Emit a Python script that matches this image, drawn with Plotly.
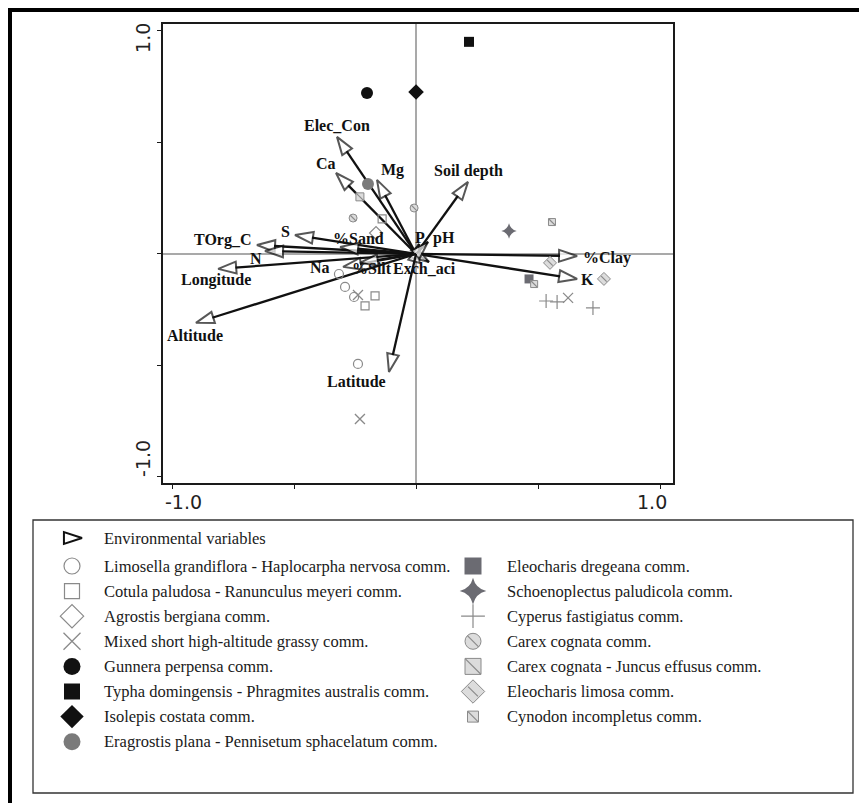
import plotly.graph_objects as go

W, H = 859, 803

# ---------------- data ----------------
env_names = ["Elec_Con", "Ca", "Mg", "Soil depth", "%Clay", "K", "S", "TOrg_C", "N",
             "%Sand", "Longitude", "Na", "%Silt", "Exch_aci", "P", "pH", "Altitude", "Latitude"]
env_x = [-0.324, -0.328, -0.160, 0.213, 0.660, 0.660, -0.496, -0.652, -0.619,
         -0.311, -0.811, -0.299, -0.230, 0.053, 0.012, 0.049, -0.902, -0.111]
env_y = [0.525, 0.363, 0.332, 0.323, -0.009, -0.112, 0.085, 0.040, 0.013,
         0.031, -0.067, -0.058, -0.040, -0.036, 0.045, 0.054, -0.309, -0.529]

limosella_x = [-0.316, -0.291, -0.254, -0.238]
limosella_y = [-0.090, -0.148, -0.193, -0.493]
cotula_x = [-0.139, -0.168, -0.209]
cotula_y = [0.157, -0.188, -0.233]
agrostis_x = [-0.164]
agrostis_y = [0.094]
mixed_x = [-0.238, -0.230, 0.623]
mixed_y = [-0.184, -0.740, -0.197]
gunnera_x = [-0.201]
gunnera_y = [0.722]
typha_x = [0.217]
typha_y = [0.951]
isolepis_x = [0.0]
isolepis_y = [0.726]
eragrostis_x = [-0.197]
eragrostis_y = [0.314]
dregeana_x = [0.463]
dregeana_y = [-0.112]
schoeno_x = [0.381]
schoeno_y = [0.103]
cyperus_x = [0.533, 0.578, 0.725]
cyperus_y = [-0.211, -0.215, -0.242]
carex_x = [-0.258, -0.008]
carex_y = [0.161, 0.206]
carexjun_x = [-0.230]
carexjun_y = [0.256]
limosa_x = [0.549, 0.770]
limosa_y = [-0.040, -0.112]
cynodon_x = [0.557, 0.484]
cynodon_y = [0.143, -0.135]

env_legend_label = "Environmental variables"
legend_labels = [
    "Limosella grandiflora - Haplocarpha nervosa comm.",
    "Cotula paludosa - Ranunculus meyeri comm.",
    "Agrostis bergiana comm.",
    "Mixed short high-altitude grassy comm.",
    "Gunnera perpensa comm.",
    "Typha domingensis - Phragmites australis comm.",
    "Isolepis costata comm.",
    "Eragrostis plana - Pennisetum sphacelatum comm.",
    "Eleocharis dregeana comm.",
    "Schoenoplectus paludicola comm.",
    "Cyperus fastigiatus comm.",
    "Carex cognata comm.",
    "Carex cognata - Juncus effusus comm.",
    "Eleocharis limosa comm.",
    "Cynodon incompletus comm.",
]
series_x = [limosella_x, cotula_x, agrostis_x, mixed_x, gunnera_x, typha_x, isolepis_x,
            eragrostis_x, dregeana_x, schoeno_x, cyperus_x, carex_x, carexjun_x, limosa_x, cynodon_x]
series_y = [limosella_y, cotula_y, agrostis_y, mixed_y, gunnera_y, typha_y, isolepis_y,
            eragrostis_y, dregeana_y, schoeno_y, cyperus_y, carex_y, carexjun_y, limosa_y, cynodon_y]

# ---------------- styles ----------------
GRAY = "#8a8a8a"
DGRAY = "#6b6b72"
BLK = "#111111"
# symbol, fill colour, outline colour, outline width, plot size, legend size, hatch
styles = [
    ("circle-open", GRAY, GRAY, 1.2, 9, 16, False),
    ("square-open", GRAY, GRAY, 1.2, 8, 15, False),
    ("diamond-open", GRAY, GRAY, 1.2, 10, 18, False),
    ("x-thin-open", GRAY, GRAY, 1.3, 10, 17, False),
    ("circle", BLK, BLK, 0, 12, 17, False),
    ("square", BLK, BLK, 0, 10, 16, False),
    ("diamond", BLK, BLK, 0, 12, 18, False),
    ("circle", "#7a7a7a", "#7a7a7a", 0, 12, 17, False),
    ("square", DGRAY, DGRAY, 0, 9, 17, False),
    ("star-diamond", DGRAY, DGRAY, 0, 11, 19, False),
    ("cross-thin-open", GRAY, GRAY, 1.2, 10, 17, False),
    ("circle", "#dcdcdc", GRAY, 1.0, 8, 16, True),
    ("square", "#dcdcdc", GRAY, 1.0, 8, 16, True),
    ("diamond", "#dcdcdc", GRAY, 1.0, 10, 18, True),
    ("square", "#dcdcdc", GRAY, 1.0, 7, 11, True),
]

# label offsets (pixels) relative to arrow tips
lab_dx = [0, -10, 15, 0, 30, 10, -10, -34, -9, 18, -2, -23, 12, -4, 1, 16, -1, -32]
lab_dy = [11, 9, 10, 11, -2, -1, 3, 5, -7, 9, -11, -1, -6, -7, 6, 4, -13, -10]

# layout geometry (pixels)
plot_l, plot_r, plot_t, plot_b = 163, 673, 24, 483
xr = [-1.037, 1.053]
yr = [-1.027, 1.031]

fig = go.Figure()

# arrows
for i, name in enumerate(env_names):
    fig.add_trace(go.Scatter(
        x=[0, env_x[i]], y=[0, env_y[i]], mode="lines+markers",
        line=dict(color=BLK, width=2.3),
        marker=dict(symbol="arrow", size=[0, 19], angleref="previous", color="white",
                    line=dict(color=BLK, width=2)),
        showlegend=False, hoverinfo="skip", cliponaxis=False))


def add_series(xs, ys, st, xa, ya, legend=False):
    sym, fill, outl, lw, ps, ls, hatch = st
    size = ls if legend else ps
    fig.add_trace(go.Scatter(
        x=xs, y=ys, mode="markers", xaxis=xa, yaxis=ya,
        marker=dict(symbol=sym, size=size, color=fill, line=dict(color=outl, width=lw if lw else 0)),
        showlegend=False, hoverinfo="skip", cliponaxis=False))
    if hatch:
        fac = 0.7 if sym == "circle" else (0.55 if sym == "diamond" else 0.95)
        fig.add_trace(go.Scatter(
            x=xs, y=ys, mode="markers", xaxis=xa, yaxis=ya,
            marker=dict(symbol="line-nw", size=size * fac, color=outl,
                        line=dict(color=outl, width=1.2)),
            showlegend=False, hoverinfo="skip", cliponaxis=False))


for k in range(len(series_x)):
    add_series(series_x[k], series_y[k], styles[k], "x", "y")

# legend (pixel axes)
left_sym_x, left_txt_x = 72, 102
right_sym_x, right_txt_x = 473, 505
env_row_y = 538
row0, row_step = 566, 25.1
leg_font = dict(family="Liberation Serif, Times New Roman, serif", size=16.5, color="#1a1a1a")

fig.add_trace(go.Scatter(
    x=[left_sym_x + 10], y=[env_row_y], mode="markers", xaxis="x2", yaxis="y2",
    marker=dict(symbol="arrow", size=19, angle=90, color="white", line=dict(color=BLK, width=2)),
    showlegend=False, hoverinfo="skip"))
annotations = [dict(x=left_txt_x, y=env_row_y, xref="x2", yref="y2", text=env_legend_label,
                    showarrow=False, xanchor="left", yanchor="middle", font=leg_font)]
for k, lab in enumerate(legend_labels):
    if k < 8:
        sx, tx, ry = left_sym_x, left_txt_x, row0 + row_step * k
    else:
        sx, tx, ry = right_sym_x, right_txt_x, row0 + row_step * (k - 8)
    add_series([sx], [ry], styles[k], "x2", "y2", legend=True)
    annotations.append(dict(x=tx, y=ry, xref="x2", yref="y2", text=lab, showarrow=False,
                            xanchor="left", yanchor="middle", font=leg_font))

# variable labels
lab_font = dict(family="Liberation Serif, Times New Roman, serif", size=16, color=BLK, weight="bold")
for i, name in enumerate(env_names):
    annotations.append(dict(x=env_x[i], y=env_y[i], xref="x", yref="y", text=name, showarrow=False,
                            xshift=lab_dx[i], yshift=lab_dy[i], font=lab_font))

# tick labels
tk_font = dict(family="DejaVu Sans, Arial, sans-serif", size=19, color="#222")
annotations += [
    dict(x=-1, y=1 - 502 / H, xref="x", yref="paper", text="-1.0", showarrow=False, xshift=11,
         xanchor="center", yanchor="middle", font=tk_font),
    dict(x=1, y=1 - 502 / H, xref="x", yref="paper", text="1.0", showarrow=False, xshift=-8,
         xanchor="center", yanchor="middle", font=tk_font),
    dict(x=143 / W, y=1, xref="paper", yref="y", text="1.0", showarrow=False, yshift=-7, textangle=-90,
         xanchor="center", yanchor="middle", font=tk_font),
    dict(x=143 / W, y=-1, xref="paper", yref="y", text="-1.0", showarrow=False, yshift=18, textangle=-90,
         xanchor="center", yanchor="middle", font=tk_font),
]

shapes = [
    # outer thick border (top and left)
    dict(type="line", xref="paper", yref="paper", x0=8 / W, x1=1, y0=1 - 10 / H, y1=1 - 10 / H,
         line=dict(color="black", width=4)),
    dict(type="line", xref="paper", yref="paper", x0=10 / W, x1=10 / W, y0=0, y1=1 - 8 / H,
         line=dict(color="black", width=4)),
    # legend box
    dict(type="rect", xref="paper", yref="paper", x0=33 / W, x1=853 / W, y0=1 - 793 / H, y1=1 - 520 / H,
         line=dict(color="#333", width=1.3)),
]

axis_common = dict(showgrid=False, zeroline=True, zerolinecolor="#a9a9a9", zerolinewidth=1.5,
                   showline=True, mirror=True, linecolor="#1a1a1a", linewidth=1.5,
                   ticks="outside", ticklen=4, tickwidth=1.2, tickcolor="#1a1a1a",
                   tickvals=[-1, -0.5, 0, 0.5, 1], showticklabels=False, fixedrange=True)

fig.update_layout(
    width=W, height=H, margin=dict(l=0, r=0, t=0, b=0),
    paper_bgcolor="white", plot_bgcolor="rgba(0,0,0,0)",
    xaxis=dict(domain=[plot_l / W, plot_r / W], range=xr, anchor="y", **axis_common),
    yaxis=dict(domain=[1 - plot_b / H, 1 - plot_t / H], range=yr, anchor="x", **axis_common),
    xaxis2=dict(domain=[0, 1], range=[0, W], visible=False, anchor="y2", fixedrange=True),
    yaxis2=dict(domain=[0, 1], range=[H, 0], visible=False, anchor="x2", fixedrange=True),
    annotations=annotations, shapes=shapes, showlegend=False,
)

fig.write_html("out.html", config={"displayModeBar": False},
               post_script="document.body.style.margin='0';document.body.style.padding='0';")
